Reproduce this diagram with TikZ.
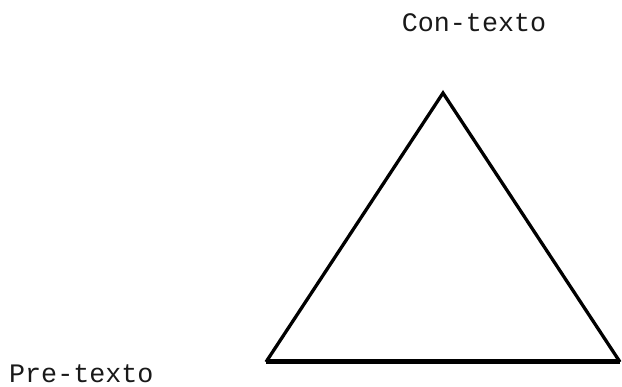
\documentclass[tikz,border=0pt]{standalone}
\usepackage{fontspec}
\setmonofont{Liberation Mono}
\begin{document}
\begin{tikzpicture}[x=1pt,y=1pt,
  lbl/.style={font=\ttfamily\fontsize{26.7}{30}\selectfont, inner sep=0pt, text depth=0pt, text=black!90},
  side/.style={line width=3.3pt, line join=miter},
  basel/.style={line width=5pt}]
\useasboundingbox (0,0) rectangle (622,387);
\coordinate (apex) at (443,294);
\coordinate (bl) at (266,25);
\coordinate (br) at (620,25);
\draw[side] (bl) -- (apex) -- (br);
\draw[basel] (bl) -- (br);
\node[lbl, anchor=base] (con) at (474,355) {Con-texto};
\node[lbl, anchor=base west] (pre) at (9,4) {Pre-texto};
\end{tikzpicture}
\end{document}
